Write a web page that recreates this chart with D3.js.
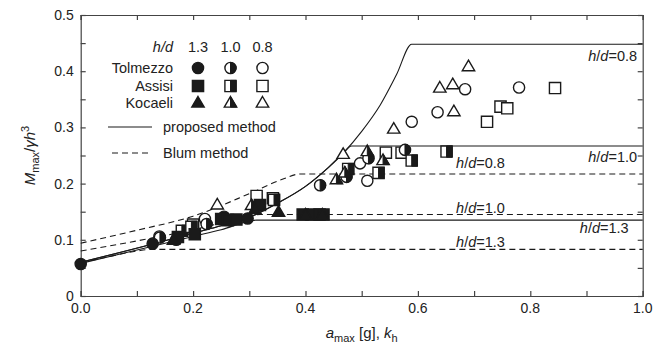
<!DOCTYPE html>
<html>
<head>
<meta charset="utf-8">
<script src="https://cdn.jsdelivr.net/npm/d3@7"></script>
<style>
  body { margin: 0; background: #fff; }
  text { font-family: "Liberation Sans", Arial, sans-serif; fill: #222; }
</style>
</head>
<body>
<svg id="chart" width="666" height="356"></svg>
<script>
// Data: [amax, Mmax/γh³]
const tolmezzo13 = [[0.0, 0.057], [0.128, 0.093], [0.17, 0.1], [0.255, 0.141], [0.265, 0.135], [0.297, 0.138]];
const tolmezzo10 = [[0.141, 0.104], [0.224, 0.128], [0.426, 0.197], [0.473, 0.212], [0.512, 0.245], [0.577, 0.26]];
const tolmezzo08 = [[0.14, 0.106], [0.221, 0.137], [0.497, 0.236], [0.51, 0.205], [0.589, 0.31], [0.635, 0.327], [0.684, 0.368], [0.78, 0.371]];
const assisi13 = [[0.173, 0.105], [0.203, 0.11], [0.25, 0.137], [0.262, 0.135], [0.277, 0.136], [0.319, 0.162], [0.395, 0.145], [0.41, 0.145], [0.425, 0.145], [0.432, 0.145]];
const assisi10 = [[0.18, 0.116], [0.197, 0.123], [0.344, 0.171], [0.476, 0.226], [0.53, 0.219], [0.589, 0.241], [0.651, 0.257]];
const assisi08 = [[0.2, 0.127], [0.313, 0.178], [0.342, 0.174], [0.543, 0.255], [0.571, 0.255], [0.723, 0.31], [0.747, 0.337], [0.759, 0.334], [0.844, 0.37]];
const kocaeli13 = [[0.165, 0.1], [0.31, 0.155], [0.352, 0.15], [0.4, 0.145], [0.43, 0.145]];
const kocaeli10 = [[0.304, 0.162], [0.455, 0.208], [0.47, 0.22], [0.51, 0.258], [0.538, 0.242]];
const kocaeli08 = [[0.243, 0.163], [0.467, 0.253], [0.557, 0.298], [0.639, 0.371], [0.662, 0.377], [0.664, 0.329], [0.69, 0.409]];

// proposed method curves
const proposed08 = [[0, 0.06], [0.13, 0.093], [0.2, 0.112], [0.25, 0.125], [0.3, 0.14], [0.35, 0.165], [0.4, 0.195], [0.44, 0.228], [0.467, 0.254], [0.5, 0.293], [0.533, 0.34], [0.562, 0.394], [0.589, 0.448], [1.0, 0.448]];
const proposed10 = [[0, 0.06], [0.13, 0.093], [0.2, 0.112], [0.25, 0.125], [0.3, 0.14], [0.35, 0.165], [0.4, 0.195], [0.44, 0.228], [0.467, 0.254], [0.482, 0.267], [1.0, 0.267]];
const proposed13 = [[0, 0.058], [0.13, 0.089], [0.2, 0.106], [0.25, 0.118], [0.313, 0.135], [1.0, 0.135]];
// Blum method curves
const blum08 = [[0, 0.094], [0.1, 0.117], [0.2, 0.142], [0.3, 0.182], [0.36, 0.208], [0.39, 0.217], [1.0, 0.217]];
const blum10 = [[0, 0.08], [0.1, 0.098], [0.2, 0.118], [0.25, 0.13], [0.3, 0.143], [0.32, 0.145], [1.0, 0.145]];
const blum13 = [[0, 0.059], [0.05, 0.07], [0.1, 0.08], [0.125, 0.083], [1.0, 0.083]];

const xTicks = [0, 0.2, 0.4, 0.6, 0.8, 1.0];
const yTicks = [0, 0.1, 0.2, 0.3, 0.4, 0.5];

const margin = { top: 15, right: 23.3, bottom: 60, left: 80.7 };
const width = 666 - margin.left - margin.right;
const height = 356 - margin.top - margin.bottom;

const svg = d3.select("#chart");
const g = svg.append("g").attr("transform", "translate(" + margin.left + "," + margin.top + ")");

const x = d3.scaleLinear().domain([0, 1]).range([0, width]);
const y = d3.scaleLinear().domain([0, 0.5]).range([height, 0]);

const ink = "#1a1a1a";
const axisCol = "#444";

// axes with inward ticks
const xMinor = d3.range(0, 1.001, 0.1);
const yMinor = d3.range(0, 0.5001, 0.05);

g.append("g").attr("transform", "translate(0," + height + ")")
  .call(d3.axisBottom(x).tickValues(xMinor).tickSize(-5).tickFormat(""));
g.append("g")
  .call(d3.axisTop(x).tickValues(xMinor).tickSize(-5).tickFormat(""));
g.append("g")
  .call(d3.axisLeft(y).tickValues(yMinor).tickSize(-5).tickFormat(""));
g.append("g").attr("transform", "translate(" + width + ",0)")
  .call(d3.axisRight(y).tickValues(yMinor).tickSize(-5).tickFormat(""));
g.selectAll(".domain, .tick line").attr("stroke", axisCol).attr("stroke-width", 1.2);

// tick labels
g.selectAll(".xlab").data(xTicks).enter().append("text")
  .attr("x", d => x(d)).attr("y", height + 17)
  .attr("text-anchor", "middle").style("font-size", "14px")
  .text(d => d.toFixed(1));
g.selectAll(".ylab").data(yTicks).enter().append("text")
  .attr("x", -7).attr("y", d => y(d) + 5)
  .attr("text-anchor", "end").style("font-size", "14px")
  .text(d => d === 0 ? "0" : d.toFixed(1));

// curves
const line = d3.line().x(d => x(d[0])).y(d => y(d[1])).curve(d3.curveMonotoneX);
const curves = g.append("g").attr("fill", "none").attr("stroke", ink).attr("stroke-width", 1.1);
[blum08, blum10, blum13].forEach(c => {
  curves.append("path").attr("d", line(c)).attr("stroke-dasharray", "6,4");
});
[proposed08, proposed10, proposed13].forEach(c => {
  curves.append("path").attr("d", line(c));
});

// markers
function marker(sel, shape, fill, cx, cy) {
  const m = sel.append("g").attr("transform", "translate(" + cx + "," + cy + ")");
  let full, half;
  if (shape === "circle") {
    const r = 5.6;
    full = "M0," + (-r) + "A" + r + "," + r + " 0 1 1 0," + r + "A" + r + "," + r + " 0 1 1 0," + (-r) + "Z";
    half = "M0," + (-r) + "A" + r + "," + r + " 0 0 1 0," + r + "Z";
  } else if (shape === "square") {
    const s = 5.6;
    full = "M" + (-s) + "," + (-s) + "H" + s + "V" + s + "H" + (-s) + "Z";
    half = "M0," + (-s) + "H" + s + "V" + s + "H0Z";
  } else {
    const w = 6.2, t = -6, b = 4.6;
    full = "M0," + t + "L" + w + "," + b + "H" + (-w) + "Z";
    half = "M0," + t + "L" + w + "," + b + "H0Z";
  }
  m.append("path").attr("d", full)
    .attr("fill", fill === "full" ? ink : "#fff")
    .attr("stroke", ink).attr("stroke-width", 1.4);
  if (fill === "half") {
    m.append("path").attr("d", half).attr("fill", ink).attr("stroke", ink).attr("stroke-width", 1);
  }
}

const series = [
  { data: tolmezzo08, shape: "circle", fill: "none" },
  { data: assisi08, shape: "square", fill: "none" },
  { data: kocaeli08, shape: "triangle", fill: "none" },
  { data: tolmezzo10, shape: "circle", fill: "half" },
  { data: assisi10, shape: "square", fill: "half" },
  { data: kocaeli10, shape: "triangle", fill: "half" },
  { data: tolmezzo13, shape: "circle", fill: "full" },
  { data: assisi13, shape: "square", fill: "full" },
  { data: kocaeli13, shape: "triangle", fill: "full" }
];
const pts = g.append("g");
series.forEach(s => {
  s.data.forEach(d => marker(pts, s.shape, s.fill, x(d[0]), y(d[1])));
});

// curve annotations
function hdLabel(xv, yv, val, anchor) {
  const t = g.append("text").attr("x", x(xv)).attr("y", y(yv))
    .attr("text-anchor", anchor).style("font-size", "14.5px");
  t.append("tspan").style("font-style", "italic").text("h");
  t.append("tspan").text("/");
  t.append("tspan").style("font-style", "italic").text("d");
  t.append("tspan").text("=" + val);
}
hdLabel(0.99, 0.419, "0.8", "end");
hdLabel(0.99, 0.238, "1.0", "end");
hdLabel(0.975, 0.112, "1.3", "end");
hdLabel(0.668, 0.228, "0.8", "start");
hdLabel(0.668, 0.147, "1.0", "start");
hdLabel(0.668, 0.087, "1.3", "start");

// legend
const lg = svg.append("g");
const colX = [198, 230.5, 262.5];
lg.append("text").attr("x", 173).attr("y", 52).attr("text-anchor", "end")
  .style("font-size", "14.5px").style("font-style", "italic").text("h/d");
["1.3", "1.0", "0.8"].forEach((v, i) => {
  lg.append("text").attr("x", colX[i]).attr("y", 52).attr("text-anchor", "middle")
    .style("font-size", "14.5px").text(v);
});
const sites = ["Tolmezzo", "Assisi", "Kocaeli"];
const shapes = ["circle", "square", "triangle"];
const fills = ["full", "half", "none"];
const rowY = [68, 86, 102.5];
sites.forEach((s, r) => {
  lg.append("text").attr("x", 173).attr("y", rowY[r] + 5).attr("text-anchor", "end")
    .style("font-size", "14.5px").text(s);
  fills.forEach((f, c) => marker(lg, shapes[r], f, colX[c], rowY[r]));
});
lg.append("line").attr("x1", 108).attr("x2", 152).attr("y1", 127).attr("y2", 127)
  .attr("stroke", ink).attr("stroke-width", 1.1);
lg.append("text").attr("x", 163).attr("y", 132).style("font-size", "14.5px").text("proposed method");
lg.append("line").attr("x1", 112).attr("x2", 152).attr("y1", 153).attr("y2", 153)
  .attr("stroke", ink).attr("stroke-width", 1.1).attr("stroke-dasharray", "6,4");
lg.append("text").attr("x", 163).attr("y", 158).style("font-size", "14.5px").text("Blum method");

// axis titles
const xt = svg.append("text").attr("x", margin.left + width / 2).attr("y", 338)
  .attr("text-anchor", "middle").style("font-size", "15px");
xt.append("tspan").style("font-style", "italic").text("a");
xt.append("tspan").attr("dy", 4).style("font-size", "11px").text("max");
xt.append("tspan").attr("dy", -4).text(" [g], ");
xt.append("tspan").style("font-style", "italic").text("k");
xt.append("tspan").attr("dy", 4).style("font-size", "11px").text("h");

const yt = svg.append("text").attr("transform", "translate(35," + (margin.top + height / 2) + ") rotate(-90)")
  .attr("text-anchor", "middle").style("font-size", "15px");
yt.append("tspan").style("font-style", "italic").text("M");
yt.append("tspan").attr("dy", 4).style("font-size", "11px").text("max");
yt.append("tspan").attr("dy", -4).text("/");
yt.append("tspan").style("font-style", "italic").text("γh");
yt.append("tspan").attr("dy", -6).style("font-size", "11px").text("3");
</script>
</body>
</html>
